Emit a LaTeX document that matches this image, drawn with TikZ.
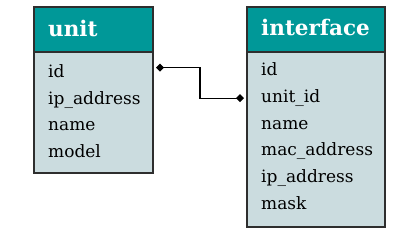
\documentclass[tikz,border=0pt]{standalone}
\usepackage{fontspec}
\setmainfont{DejaVu Serif}
\usetikzlibrary{arrows.meta,calc}
\definecolor{headteal}{HTML}{009898}
\definecolor{bodyblue}{HTML}{CBDCDF}
\definecolor{edgegray}{HTML}{2E2E2E}
\begin{document}
\begin{tikzpicture}[x=1pt,y=-1pt,
  tblhead/.style={draw=edgegray,line width=1.2pt,fill=headteal,anchor=north west,
    inner sep=0pt,outer sep=0pt,minimum width=#1,minimum height=45pt},
  tblbody/.style={draw=edgegray,line width=1.2pt,fill=bodyblue,anchor=north west,
    inner sep=0pt,outer sep=0pt,minimum width=#1},
  title/.style={anchor=base west,inner sep=0pt,text=white,font=\fontsize{21.5}{21.5}\selectfont\bfseries},
  field/.style={anchor=base west,inner sep=0pt,text=black,font=\fontsize{17}{17}\selectfont},
  link/.style={line width=1.1pt,draw=black,{Diamond[length=8pt,width=8pt]}-{Diamond[length=8pt,width=8pt]},
    shorten <=3pt,shorten >=3pt}]
\useasboundingbox (0,0) rectangle (413,243);

% table: unit
\node[tblhead=119pt] (u-head) at (34,7) {};
\node[tblbody=119pt,minimum height=121pt] (u-body) at (u-head.south west) {};
\node[title] (u-title) at (48,36.5) {unit};
\node[field] (u-id)    at (48,78)   {id};
\node[field] (u-ip)    at (48,104.5) {ip\_address};
\node[field] (u-name)  at (48,131)  {name};
\node[field] (u-model) at (48,157.5) {model};

% table: interface
\node[tblhead=138pt] (i-head) at (247,7) {};
\node[tblbody=138pt,minimum height=175pt] (i-body) at (i-head.south west) {};
\node[title] (i-title) at (261,35.5) {interface};
\node[field] (i-id)     at (261,76)    {id};
\node[field] (i-unitid) at (261,102.7) {unit\_id};
\node[field] (i-name)   at (261,129.4) {name};
\node[field] (i-mac)    at (261,156)   {mac\_address};
\node[field] (i-ip)     at (261,182.8) {ip\_address};
\node[field] (i-mask)   at (261,209.5) {mask};

% relation unit.id -- interface.unit_id
\coordinate (r-a) at ([yshift=4pt]u-body.east |- u-id.center);
\coordinate (r-b) at ([yshift=0pt]i-body.west |- i-unitid.center);
\draw[link] (r-a) -| ($(r-a)!0.5!(r-b)$) |- (r-b);
\end{tikzpicture}
\end{document}
